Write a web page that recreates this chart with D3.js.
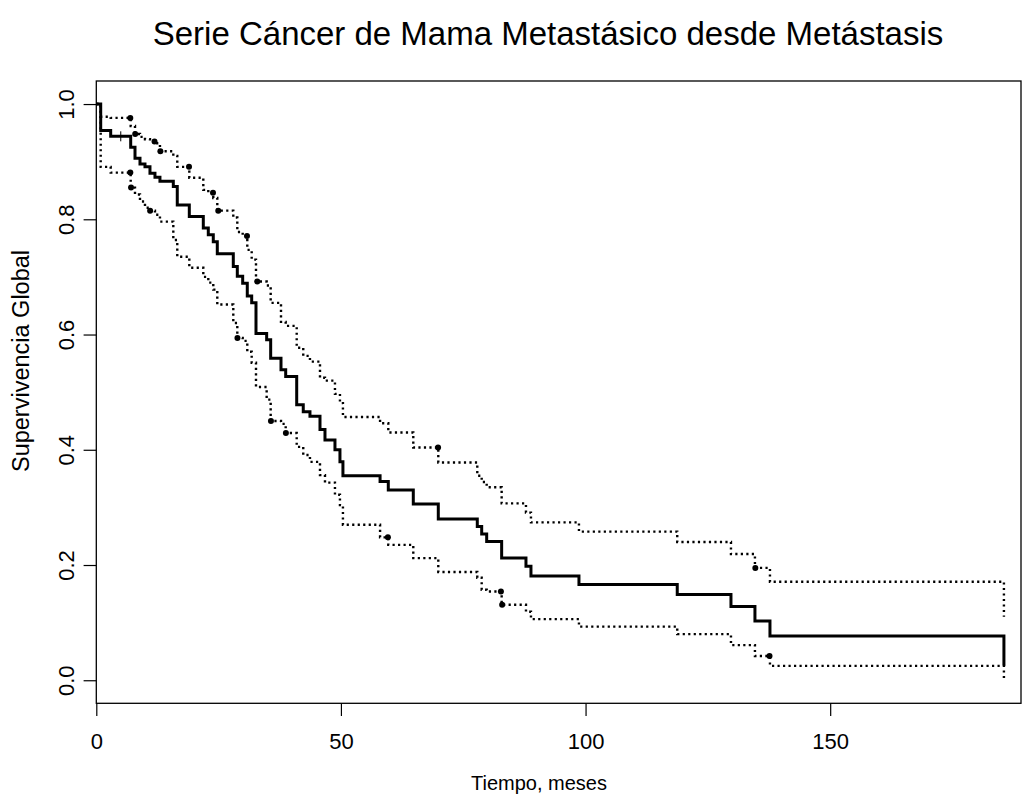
<!DOCTYPE html>
<html>
<head>
<meta charset="utf-8">
<script src="https://cdn.jsdelivr.net/npm/d3@7"></script>
<style>
  html, body { margin: 0; padding: 0; background: #fff; }
  svg text { font-family: "Liberation Sans", Arial, sans-serif; fill: #000; }
</style>
</head>
<body>
<svg id="chart" width="1031" height="802"></svg>
<script>
// ---- data ----
const chartTitle = "Serie Cáncer de Mama Metastásico desde Metástasis";
const xTitle = "Tiempo, meses";
const yTitle = "Supervivencia Global";
const xTicks = [0, 50, 100, 150];
const yTicks = [0.0, 0.2, 0.4, 0.6, 0.8, 1.0];

// step times (months) of the Kaplan-Meier estimate
const times = [0.9, 2.94, 7.03, 7.91, 8.93, 9.95, 10.97, 11.99, 13.01, 15.74,
  16.55, 19.01, 21.87, 22.89, 23.91, 24.73, 28.0, 28.82, 29.92, 30.86,
  31.76, 32.64, 34.82, 35.64, 37.75, 38.71, 40.96, 42.3, 43.67, 45.72,
  46.74, 48.78, 49.8, 50.41, 58.0, 59.68, 64.79, 69.9, 77.87, 78.77,
  79.79, 82.85, 87.82, 88.84, 98.65, 118.74, 129.72, 134.62, 137.69, 185.51];
// survival after each step
const surv = [0.954, 0.944, 0.925, 0.906, 0.896, 0.891, 0.880, 0.873, 0.866, 0.857,
  0.825, 0.805, 0.785, 0.773, 0.761, 0.740, 0.718, 0.701, 0.689, 0.667,
  0.655, 0.602, 0.591, 0.559, 0.539, 0.527, 0.478, 0.466, 0.458, 0.435,
  0.417, 0.400, 0.379, 0.355, 0.345, 0.330, 0.306, 0.280, 0.267, 0.254,
  0.241, 0.212, 0.198, 0.181, 0.166, 0.149, 0.128, 0.103, 0.077, 0.025];
// upper confidence limit after each step
const upper = [0.978, 0.976, 0.962, 0.948, 0.943, 0.939, 0.935, 0.932, 0.918, 0.910,
  0.891, 0.872, 0.851, 0.846, 0.837, 0.815, 0.803, 0.778, 0.771, 0.747,
  0.730, 0.692, 0.685, 0.655, 0.622, 0.615, 0.577, 0.563, 0.553, 0.525,
  0.520, 0.497, 0.481, 0.457, 0.446, 0.430, 0.404, 0.378, 0.355, 0.344,
  0.335, 0.307, 0.291, 0.274, 0.258, 0.240, 0.219, 0.195, 0.171, 0.110];
// lower confidence limit after each step
const lower = [0.891, 0.881, 0.855, 0.843, 0.831, 0.820, 0.815, 0.808, 0.796, 0.764,
  0.735, 0.716, 0.700, 0.690, 0.678, 0.652, 0.620, 0.594, 0.589, 0.570,
  0.551, 0.509, 0.487, 0.450, 0.445, 0.429, 0.405, 0.391, 0.379, 0.356,
  0.343, 0.322, 0.304, 0.270, 0.248, 0.235, 0.212, 0.188, 0.178, 0.157,
  0.154, 0.131, 0.119, 0.106, 0.093, 0.080, 0.061, 0.042, 0.025, 0.000];
// censoring marks
const mainMarks = [5.0];
const upperMarks = [6.95, 7.95, 11.9, 13.1, 18.95, 23.85, 24.93, 30.8, 32.9, 69.85, 134.7];
const lowerMarks = [6.95, 7.1, 11.0, 28.85, 35.7, 38.75, 59.6, 82.7, 82.95, 137.6];

// ---- layout ----
const plot = { left: 96.3, right: 1021, top: 81, bottom: 703.3 };
const svg = d3.select("#chart");

const x = d3.scaleLinear().domain([0, 189]).range([plot.left, plot.right]);
const y = d3.scaleLinear().domain([-0.04, 1.04]).range([plot.bottom, plot.top]);

function series(vals) {
  return [[0, 1]].concat(times.map((t, i) => [t, vals[i]]));
}
function stepValue(vals, t) {
  let v = 1;
  for (let i = 0; i < times.length; i++) { if (times[i] <= t) v = vals[i]; }
  return v;
}
const line = d3.line().x(d => x(d[0])).y(d => y(d[1])).curve(d3.curveStepAfter);

// confidence limits (dotted)
[upper, lower].forEach(vals => {
  svg.append("path")
    .datum(series(vals))
    .attr("d", line)
    .attr("fill", "none")
    .attr("stroke", "#000")
    .attr("stroke-width", 2.4)
    .attr("stroke-dasharray", "2.2,3.3");
});
// censor blobs on CI lines
svg.append("g").selectAll("circle")
  .data(upperMarks.map(t => [t, stepValue(upper, t)])
    .concat(lowerMarks.map(t => [t, stepValue(lower, t)])))
  .join("circle")
  .attr("cx", d => x(d[0])).attr("cy", d => y(d[1]))
  .attr("r", 3).attr("fill", "#000");

// survival curve
svg.append("path")
  .datum(series(surv))
  .attr("d", line)
  .attr("fill", "none")
  .attr("stroke", "#000")
  .attr("stroke-width", 3)
  .attr("stroke-linejoin", "miter");

// "+" censor mark on main curve
const plus = svg.append("g");
mainMarks.forEach(t => {
  const cx = x(t), cy = y(stepValue(surv, t));
  plus.append("line").attr("x1", cx - 4.5).attr("x2", cx + 4.5).attr("y1", cy).attr("y2", cy)
    .attr("stroke", "#000").attr("stroke-width", 1);
  plus.append("line").attr("x1", cx).attr("x2", cx).attr("y1", cy - 5).attr("y2", cy + 5)
    .attr("stroke", "#000").attr("stroke-width", 1);
});

// box
svg.append("rect")
  .attr("x", plot.left).attr("y", plot.top)
  .attr("width", plot.right - plot.left).attr("height", plot.bottom - plot.top)
  .attr("fill", "none").attr("stroke", "#000").attr("stroke-width", 1.3);

// x axis
const gx = svg.append("g").attr("transform", `translate(0,${plot.bottom})`)
  .call(d3.axisBottom(x).tickValues(xTicks).tickFormat(d3.format("d")).tickSize(12.7).tickSizeOuter(0));
gx.select(".domain").remove();
gx.selectAll(".tick line").attr("stroke", "#000").attr("stroke-width", 1.2);
gx.selectAll(".tick text").attr("y", 46).attr("dy", 0)
  .style("font-size", "22px").style("font-family", "Liberation Sans, Arial, sans-serif");

// y axis
const gy = svg.append("g").attr("transform", `translate(${plot.left},0)`)
  .call(d3.axisLeft(y).tickValues(yTicks).tickFormat(d3.format(".1f")).tickSize(12.7).tickSizeOuter(0));
gy.select(".domain").remove();
gy.selectAll(".tick line").attr("stroke", "#000").attr("stroke-width", 1.2);
gy.selectAll(".tick text")
  .attr("x", 0).attr("y", 0).attr("dy", 0)
  .attr("text-anchor", "middle")
  .attr("transform", "translate(-22.3,0) rotate(-90)")
  .style("font-size", "22px").style("font-family", "Liberation Sans, Arial, sans-serif");

// titles
svg.append("text").attr("x", 548).attr("y", 45).attr("text-anchor", "middle")
  .style("font-size", "33px").text(chartTitle);
svg.append("text").attr("x", 539).attr("y", 790).attr("text-anchor", "middle")
  .style("font-size", "20px").text(xTitle);
svg.append("text").attr("transform", "translate(29,361) rotate(-90)").attr("text-anchor", "middle")
  .style("font-size", "23.5px").text(yTitle);
</script>
</body>
</html>
